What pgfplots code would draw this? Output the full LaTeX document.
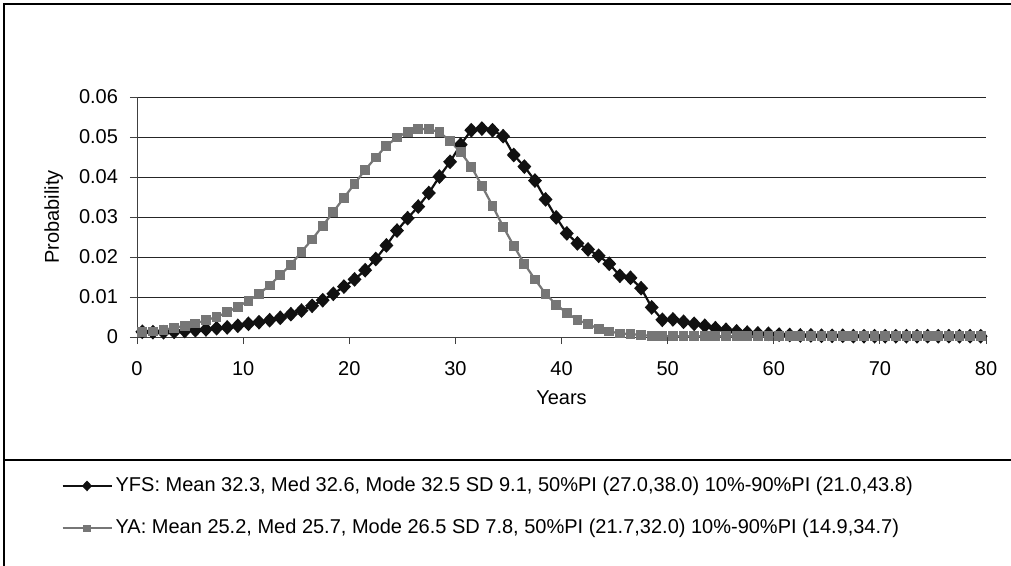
\documentclass[border=0pt]{standalone}
\usepackage{pgfplots}
\pgfplotsset{compat=1.18}
\usepackage{pgfplotstable}
\usepackage{fontspec}
\setmainfont{Liberation Sans}
\definecolor{yfsblack}{RGB}{17,17,17}
\definecolor{yagray}{RGB}{118,118,118}

% year (class mid-point), YFS probability, YA probability
\pgfplotstableread{
x    yfs     ya
0.5  0.0013  0.0013
1.5  0.0012  0.0014
2.5  0.0012  0.0018
3.5  0.0013  0.0023
4.5  0.0015  0.0028
5.5  0.0017  0.0034
6.5  0.0019  0.0042
7.5  0.0022  0.0050
8.5  0.0024  0.0062
9.5  0.0028  0.0076
10.5 0.0033  0.0090
11.5 0.0037  0.0108
12.5 0.0042  0.0129
13.5 0.0048  0.0155
14.5 0.0057  0.0181
15.5 0.0066  0.0213
16.5 0.0078  0.0244
17.5 0.0092  0.0278
18.5 0.0108  0.0313
19.5 0.0126  0.0348
20.5 0.0144  0.0383
21.5 0.0167  0.0418
22.5 0.0195  0.0449
23.5 0.0229  0.0478
24.5 0.0266  0.0499
25.5 0.0297  0.0513
26.5 0.0326  0.0520
27.5 0.0360  0.0520
28.5 0.0401  0.0512
29.5 0.0438  0.0490
30.5 0.0481  0.0462
31.5 0.0517  0.0426
32.5 0.0521  0.0378
33.5 0.0517  0.0328
34.5 0.0502  0.0276
35.5 0.0455  0.0228
36.5 0.0426  0.0183
37.5 0.0391  0.0144
38.5 0.0344  0.0108
39.5 0.0299  0.0081
40.5 0.0259  0.0060
41.5 0.0234  0.0043
42.5 0.0219  0.0032
43.5 0.0203  0.0021
44.5 0.0183  0.0014
45.5 0.0153  0.0009
46.5 0.0148  0.0007
47.5 0.0122  0.0005
48.5 0.0074  0.0003
49.5 0.0043  0.00025
50.5 0.0044  0.0002
51.5 0.0038  0.0002
52.5 0.0033  0.0002
53.5 0.0028  0.0002
54.5 0.0022  0.0002
55.5 0.0018  0.0002
56.5 0.0014  0.0002
57.5 0.0011  0.0002
58.5 0.0009  0.0002
59.5 0.0008  0.0002
60.5 0.0006  0.0002
61.5 0.0005  0.0002
62.5 0.0004  0.0002
63.5 0.0004  0.0002
64.5 0.0003  0.0002
65.5 0.0003  0.0002
66.5 0.0003  0.0002
67.5 0.0002  0.0002
68.5 0.0002  0.0002
69.5 0.0002  0.0002
70.5 0.0002  0.0002
71.5 0.0002  0.0002
72.5 0.0002  0.0002
73.5 0.0002  0.0002
74.5 0.0002  0.0002
75.5 0.0002  0.0002
76.5 0.0002  0.0002
77.5 0.0002  0.0002
78.5 0.0002  0.0002
79.5 0.0002  0.0002
}\probdata

\begin{document}
\begin{tikzpicture}[x=1pt,y=1pt]
\useasboundingbox (0,0) rectangle (505.5,-283);
% chart frame and legend separator
\draw[line width=0.6pt] (2,-283) -- (2,-2) -- (505.5,-2);
\draw[line width=0.6pt] (2,-230) -- (505.5,-230);
\begin{axis}[
  at={(68.5pt,-168.5pt)}, anchor=south west,
  scale only axis,
  width=424.5pt, height=120pt,
  xmin=0, xmax=80, ymin=0, ymax=0.06,
  xtick={0,10,...,80},
  ytick={0,0.01,0.02,0.03,0.04,0.05,0.06},
  yticklabels={0,0.01,0.02,0.03,0.04,0.05,0.06},
  scaled y ticks=false,
  axis x line=bottom, axis y line=left,
  axis line style={-, line width=0.5pt, black!75},
  tick align=outside, major tick length=3.5pt,
  tick style={black!75, line width=0.5pt},
  ymajorgrids, grid style={black!85, line width=0.5pt},
  /pgf/number format/assume math mode=true,
  font=\fontsize{10}{12}\selectfont,
  xticklabel style={font=\fontsize{10}{12}\selectfont, yshift=-5pt},
  yticklabel style={font=\fontsize{10}{12}\selectfont, xshift=-2.5pt},
  xlabel={Years}, ylabel={Probability},
  xlabel style={at={(axis description cs:0.5,-0.254)}, anchor=center},
  ylabel style={at={(axis description cs:-0.098,0.5)}, anchor=center, rotate=0},
  clip=false,
  legend style={at={(axis description cs:-0.0895,-0.568)}, anchor=north west,
    draw=none, fill=none, inner sep=0pt, row sep=9pt,
    font=\fontsize{10}{12}\selectfont,
    nodes={inner sep=1.5pt, text height=7.2pt, text depth=2pt}},
  legend cell align=left,
  legend image code/.code={
    \draw[mark repeat=2, mark phase=2, every mark/.append style={scale=0.65}]
      plot coordinates {(0pt,0pt) (12.25pt,0pt) (24.5pt,0pt)};},
]
\addplot[color=yfsblack, line width=1.1pt, mark=diamond*, mark size=2.9pt,
  mark options={solid, fill=yfsblack, xscale=1.25}]
  table[x=x, y=yfs] {\probdata};
\addplot[color=yagray, line width=1.1pt, mark=square*, mark size=1.9pt,
  mark options={solid, fill=yagray}]
  table[x=x, y=ya] {\probdata};
\legend{{YFS: Mean 32.3, Med 32.6, Mode 32.5 SD 9.1, 50\%PI (27.0,38.0) 10\%-90\%PI (21.0,43.8)},
        {YA: Mean 25.2, Med 25.7, Mode 26.5 SD 7.8, 50\%PI (21.7,32.0) 10\%-90\%PI (14.9,34.7)}}
\end{axis}
\end{tikzpicture}
\end{document}
